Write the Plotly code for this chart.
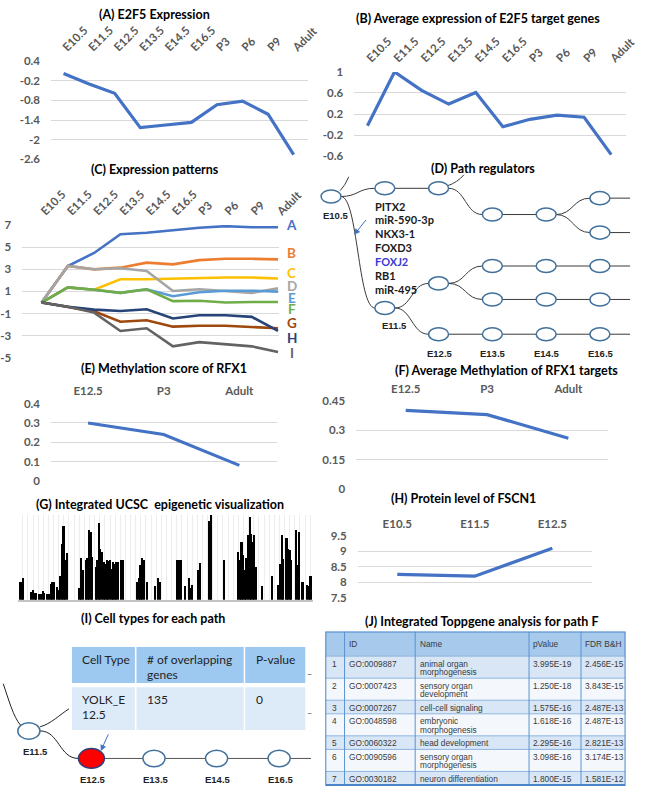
import plotly.graph_objects as go

W, H = 665, 792

# ---- data ---------------------------------------------------------------
stages = ["E10.5", "E11.5", "E12.5", "E13.5", "E14.5", "E16.5", "P3", "P6", "P9", "Adult"]
e2f5_expression = [0.02, -0.30, -0.58, -1.63, -1.55, -1.47, -0.93, -0.82, -1.22, -2.45]
e2f5_target_expression = [-0.02, 1.00, 0.65, 0.39, 0.61, -0.04, 0.10, 0.18, 0.14, -0.57]

path_labels = ["A", "B", "C", "D", "E", "F", "G", "H", "I"]
path_colors = ["#4472C4", "#ED7D31", "#FFC000", "#A5A5A5", "#5B9BD5",
               "#70AD47", "#9E480E", "#264478", "#636363"]
path_a = [0, 3.30, 4.48, 6.17, 6.30, 6.55, 6.76, 6.90, 6.80, 6.80]
path_b = [0, 3.30, 3.00, 3.15, 3.60, 3.45, 3.83, 3.95, 3.95, 3.90]
path_c = [0, 1.37, 1.16, 2.10, 2.10, 2.17, 2.20, 2.26, 2.26, 2.17]
path_d = [0, 3.30, 3.00, 3.10, 2.85, 1.04, 1.20, 1.04, 0.87, 1.28]
path_e = [0, 1.37, 1.16, 0.87, 1.20, 0.57, 0.93, 1.07, 1.07, 0.98]
path_f = [0, 1.37, 1.16, 0.87, 1.20, 0.13, 0.16, 0.00, 0.04, 0.04]
path_g = [0, -0.38, -0.80, -1.74, -1.60, -2.18, -2.10, -2.10, -2.24, -2.33]
path_h = [0, -0.38, -0.64, -0.76, -0.61, -1.44, -1.15, -1.15, -1.30, -2.57]
path_i = [0, -0.38, -0.91, -2.57, -2.33, -3.96, -3.58, -3.76, -3.96, -4.47]

meth_stages = ["E12.5", "P3", "Adult"]
rfx1_methylation = [0.30, 0.24, 0.08]
rfx1_target_methylation = [0.403, 0.381, 0.26]

fscn1_stages = ["E10.5", "E11.5", "E12.5"]
fscn1_protein = [8.26, 8.20, 9.10]

ucsc_signal = [
    0, 22, 21, 26, 0, 0, 0, 0, 10, 12, 8, 9, 0, 7, 7, 11, 8, 0, 7, 7, 19, 21, 22, 0,
    15, 12, 28, 66, 87, 47, 55, 0, 0, 0, 0, 0, 0, 0, 14, 49, 35, 0, 47, 49, 82, 80, 51, 0,
    39, 47, 91, 60, 57, 45, 43, 47, 46, 47, 37, 45, 43, 45, 45, 0, 47, 47,
    0, 0, 0, 0, 0, 0, 0, 0, 22, 26, 41, 49, 47, 0, 22, 0, 0, 0, 0, 17, 0, 26,
    22, 0, 0, 0, 0, 0, 0, 0, 0, 0, 0, 47, 47, 47, 0, 0, 17, 0, 26, 14, 18, 0, 0, 0,
    35, 44, 0, 0, 0, 0, 0, 93, 100, 0, 0, 0, 0, 0, 0, 0, 47, 0, 0, 0, 0, 0, 0, 0, 0,
    57, 47, 68, 53, 35, 49, 76, 98, 78, 68, 76, 39, 0, 0, 0, 17, 0, 0, 0, 0, 0,
    28, 0, 0, 0, 18, 43, 77, 48, 0, 73, 60, 59, 47, 0, 0, 82, 41, 80, 0, 22, 0, 0,
    18, 17, 28, 0,
]

# path regulators diagram (column = time point, lane = vertical slot)
d_stage_names = ["E10.5", "E11.5", "E12.5", "E13.5", "E14.5", "E16.5"]
d_node_col = [0, 1, 2, 3, 4, 5, 5, 3, 4, 5, 2, 3, 4, 5, 1, 2, 3, 4, 5]
d_node_lane = [1.28, 1.03, 1.03, 1.83, 1.83, 1.33, 2.38, 3.40, 3.40, 3.40,
               3.93, 4.42, 4.42, 4.42, 4.68, 5.48, 5.48, 5.48, 5.48]
d_edges = [(0, 1), (1, 2), (2, 3), (3, 4), (4, 5), (4, 6), (0, 14), (14, 10),
           (10, 7), (7, 8), (8, 9), (10, 11), (11, 12), (12, 13), (14, 15),
           (15, 16), (16, 17), (17, 18)]
d_open_right = [5, 6, 9, 13, 18]
regulators = ["PITX2", "miR-590-3p", "NKX3-1", "FOXD3", "FOXJ2", "RB1", "miR-495"]

# cell-type diagram
i_stage_names = ["E11.5", "E12.5", "E13.5", "E14.5", "E16.5"]
i_node_lane = [1, 0, 0, 0, 0]
i_selected = 1

cell_header = ["Cell Type", "# of overlapping<br>genes", "P-value"]
cell_row = ["YOLK_E<br>12.5", "135", "0"]

topp_header = ["", "ID", "Name", "pValue", "FDR B&H"]
topp_rank = ["1", "2", "3", "4", "5", "6", "7"]
topp_id = ["GO:0009887", "GO:0007423", "GO:0007267", "GO:0048598",
           "GO:0060322", "GO:0090596", "GO:0030182"]
topp_name = ["animal organ<br>morphogenesis", "sensory organ<br>development",
             "cell-cell signaling", "embryonic<br>morphogenesis", "head development",
             "sensory organ<br>morphogenesis", "neuron differentiation"]
topp_pvalue = ["3.995E-19", "1.250E-18", "1.575E-16", "1.618E-16",
               "2.295E-16", "3.098E-16", "1.800E-15"]
topp_fdr = ["2.456E-15", "3.843E-15", "2.487E-13", "2.487E-13",
            "2.821E-13", "3.174E-13", "1.581E-12"]

# ---- helpers ------------------------------------------------------------
BLUE = "#4472C4"
GRID = "#D9D9D9"
TICK_FONT = dict(family="Lato", size=11.5, color="#595959", weight="bold")
TITLE_FONT = dict(family="Lato", size=12.5, color="black", weight="bold")


def xdom(a, b):
    return [a / W, b / W]


def ydom(top, bottom):
    return [1 - bottom / H, 1 - top / H]


fig = go.Figure()
annotations = []
shapes = []


def ax_name(n):
    return "" if n == 1 else str(n)


def line_chart(n, cats, xd, yd, xrange, yrange, tickvals, tickangle, standoff):
    s = ax_name(n)
    fig.update_layout(**{
        "xaxis" + s: dict(domain=xd, anchor="y" + s, type="category", range=xrange,
                          side="top", tickangle=tickangle, tickfont=TICK_FONT,
                          showgrid=False, zeroline=False, showline=False, ticks="",
                          ticklabelstandoff=standoff, categoryarray=cats,
                          categoryorder="array"),
        "yaxis" + s: dict(domain=yd, anchor="x" + s, range=yrange, tickvals=tickvals,
                          ticktext=[f"{v:g}" for v in tickvals], showgrid=True,
                          gridcolor=GRID, gridwidth=1, zeroline=False, showline=False,
                          tickfont=TICK_FONT, ticklabelstandoff=10),
    })


def add_line(n, x, y, color=BLUE, width=3.2):
    s = ax_name(n)
    fig.add_trace(go.Scatter(x=x, y=y, mode="lines", line=dict(color=color, width=width),
                             xaxis="x" + s, yaxis="y" + s, showlegend=False,
                             hoverinfo="skip"))


def hidden_axes(n, xd, yd, xrange, yrange):
    s = str(n)
    fig.update_layout(**{
        "xaxis" + s: dict(domain=xd, anchor="y" + s, range=xrange, visible=False),
        "yaxis" + s: dict(domain=yd, anchor="x" + s, range=yrange, visible=False),
    })


def title(text, x, y):
    annotations.append(dict(text=text, x=x / W, y=1 - y / H, xref="paper", yref="paper",
                            showarrow=False, font=TITLE_FONT, xanchor="center",
                            yanchor="middle"))


def s_curve(xa, ya, xb, yb):
    xm = (xa + xb) / 2
    return f"M {xa},{ya} C {xm},{ya} {xm},{yb} {xb},{yb}"


def ellipse(xr, yr, x, y, hw, hh, fill="white", line="#41719C"):
    shapes.append(dict(type="circle", xref=xr, yref=yr, x0=x - hw, x1=x + hw,
                       y0=y - hh, y1=y + hh, fillcolor=fill,
                       line=dict(color=line, width=1.5), layer="above"))


def edge_path(xr, yr, path, color="#3A3A3A"):
    shapes.append(dict(type="path", xref=xr, yref=yr, path=path,
                       line=dict(color=color, width=1), layer="above"))


# ---- (A) ---------------------------------------------------------------
line_chart(1, stages, xdom(53, 320), ydom(55, 155), [-0.49, 9.56], [-2.6, 0.4],
           [0.4, -0.2, -0.8, -1.4, -2, -2.6], -45, 4)
add_line(1, stages, e2f5_expression)
title("(A) E2F5 Expression", 161, 8)

# ---- (B) ---------------------------------------------------------------
line_chart(2, stages, xdom(368, 650), ydom(66, 151.7), [-0.49, 9.53], [-0.6, 1.0],
           [1, 0.6, 0.2, -0.2, -0.6], -45, 4)
add_line(2, stages, e2f5_target_expression)
title("(B) Average expression of E2F5 target genes", 497, 12)

# ---- (C) ---------------------------------------------------------------
line_chart(3, stages, xdom(23, 290), ydom(221.7, 356.7), [-0.74, 9.04], [-5, 7],
           [7, 5, 3, 1, -1, -3, -5], -45, 4)
for series, color in zip([path_a, path_b, path_c, path_d, path_e, path_f, path_g,
                          path_h, path_i], path_colors):
    add_line(3, stages, series, color=color, width=2.6)
label_y = [7.0, 4.48, 2.7, 1.52, 0.42, -0.56, -1.89, -3.22, -4.56]
for lab, color, ly in zip(path_labels, path_colors, label_y):
    annotations.append(dict(text=lab, x=303 / W, y=ly, xref="paper", yref="y3",
                            showarrow=False, xanchor="center", yanchor="middle",
                            font=dict(family="Lato", size=13.5, color=color, weight="bold")))
title("(C) Expression patterns", 161, 165)

# ---- (D) path regulators ------------------------------------------------
hidden_axes(4, xdom(330, 665), ydom(150, 360), [-0.25, 5.745], [6.3, 0])
DHW, DHH = 0.185, 0.2
for a, b in d_edges:
    xa, ya = d_node_col[a] + DHW, d_node_lane[a]
    xb, yb = d_node_col[b] - DHW, d_node_lane[b]
    if ya == yb:
        edge_path("x4", "y4", f"M {xa},{ya} L {xb},{yb}")
    else:
        edge_path("x4", "y4", s_curve(xa, ya, xb, yb))
for k in d_open_right:
    x0, y0 = d_node_col[k] + DHW, d_node_lane[k]
    edge_path("x4", "y4", f"M {x0},{y0} L 5.56,{y0}")
# edges leaving the top of the panel
edge_path("x4", "y4", "M 0.17,1.1 Q 0.26,0.95 0.33,0.68")
edge_path("x4", "y4", "M 2.17,0.95 Q 2.35,0.85 2.47,0.62")
for c, ln in zip(d_node_col, d_node_lane):
    ellipse("x4", "y4", c, ln, DHW, DHH)
for i, name in enumerate(regulators):
    annotations.append(dict(text=name, x=0.78, y=1.57 + 0.423 * i, xref="x4", yref="y4",
                            showarrow=False, xanchor="left", yanchor="middle",
                            font=dict(family="Lato", size=11, weight="bold",
                                      color="#3A3AD0" if name == "FOXJ2" else "#1A1A1A")))
annotations.append(dict(x=0.43, y=2.45, ax=0.67, ay=1.95, xref="x4", yref="y4",
                        axref="x4", ayref="y4", showarrow=True, arrowhead=2,
                        arrowsize=1.2, arrowwidth=1, arrowcolor="#4472C4", text=""))
STAGE_FONT = dict(family="Liberation Sans", size=9.5, color="#222222", weight="bold")
annotations.append(dict(text=d_stage_names[0], x=0.1, y=1.86, xref="x4", yref="y4",
                        showarrow=False, font=STAGE_FONT))
annotations.append(dict(text=d_stage_names[1], x=1.18, y=5.22, xref="x4", yref="y4",
                        showarrow=False, font=STAGE_FONT))
for c in range(2, 6):
    annotations.append(dict(text=d_stage_names[c], x=c + 0.02, y=6.06, xref="x4",
                            yref="y4", showarrow=False, font=STAGE_FONT))
title("(D) Path regulators", 502, 164)

# ---- (E) / (F) ---------------------------------------------------------
line_chart(5, meth_stages, xdom(53, 288), ydom(403.3, 481.7), [-0.49, 2.5], [0, 0.4],
           [0, 0.1, 0.2, 0.3, 0.4], 0, 5)
add_line(5, meth_stages, rfx1_methylation)
title("(E) Methylation score of RFX1", 170, 368)

line_chart(6, meth_stages, xdom(370, 632), ydom(400.7, 490), [-0.61, 2.49], [0, 0.45],
           [0, 0.15, 0.3, 0.45], 0, 5)
add_line(6, meth_stages, rfx1_target_methylation)
title("(F) Average Methylation of RFX1 targets", 526, 370)

# ---- (G) ---------------------------------------------------------------
fig.add_trace(go.Bar(x=list(range(len(ucsc_signal))), y=ucsc_signal, width=1.0,
                     marker=dict(color="black", line=dict(width=0)),
                     xaxis="x7", yaxis="y7", showlegend=False, hoverinfo="skip"))
fig.update_layout(
    xaxis7=dict(domain=xdom(18.3, 325), anchor="y7", range=[-0.5, len(ucsc_signal) - 0.5],
                showgrid=True, gridcolor="#EDEDED", gridwidth=1, dtick=3.2, tick0=-0.5,
                showticklabels=False, ticks="", zeroline=False, showline=True,
                linecolor="#C4C4C4", linewidth=2),
    yaxis7=dict(domain=ydom(516, 602.7), anchor="x7", range=[0, 100], visible=False),
    bargap=0,
)
title("(G) Integrated UCSC  epigenetic visualization", 166, 506)

# ---- (H) ---------------------------------------------------------------
line_chart(8, fscn1_stages, xdom(371.7, 615), ydom(537.7, 600.7), [-0.51, 2.51],
           [7.5, 9.5], [7.5, 8, 8.5, 9, 9.5], 0, 5)
add_line(8, fscn1_stages, fscn1_protein)
title("(H) Protein level of FSCN1", 482, 500)

# ---- (I) cell types ----------------------------------------------------
hidden_axes(9, xdom(0, 330), ydom(640, 792), [-0.4615, 4.615], [-1, 4.4286])
IHW, IHH = 0.177, 0.30
RHW, RHH = 0.208, 0.357
edge_path("x9", "y9", "M -0.41,2.71 C -0.33,2.2 -0.25,1.5 -0.13,1.2", "#222222")
edge_path("x9", "y9", "M 0.18,1.15 C 0.35,1.25 0.5,1.6 0.64,1.8", "#222222")
for k in range(len(i_node_lane) - 1):
    xa = k + (RHW if k == i_selected else IHW)
    xb = k + 1 - (RHW if k + 1 == i_selected else IHW)
    ya, yb = i_node_lane[k], i_node_lane[k + 1]
    if ya == yb:
        edge_path("x9", "y9", f"M {xa},{ya} L {xb},{yb}", "#555555")
    else:
        edge_path("x9", "y9", s_curve(xa, ya, xb, yb), "#222222")
last = len(i_node_lane) - 1
edge_path("x9", "y9", f"M {last + IHW},0 L 4.51,0", "#555555")
for k, ln in enumerate(i_node_lane):
    if k == i_selected:
        ellipse("x9", "y9", k, ln, RHW, RHH, fill="#FF0000", line="#2F3E78")
    else:
        ellipse("x9", "y9", k, ln, IHW, IHH)
annotations.append(dict(x=1.15, y=0.27, ax=1.28, ay=0.93, xref="x9", yref="y9",
                        axref="x9", ayref="y9", showarrow=True, arrowhead=2,
                        arrowsize=1.2, arrowwidth=1, arrowcolor="#4472C4", text=""))
annotations.append(dict(text=i_stage_names[0], x=0.11, y=0.26, xref="x9", yref="y9",
                        showarrow=False, font=STAGE_FONT))
for k in range(1, len(i_stage_names)):
    annotations.append(dict(text=i_stage_names[k], x=k + 0.03, y=-0.75, xref="x9",
                            yref="y9", showarrow=False, font=STAGE_FONT))
for yy in (685, 725):
    annotations.append(dict(text="–", x=321.7 / W, y=1 - yy / H, xref="paper",
                            yref="paper", showarrow=False,
                            font=dict(family="Lato", size=9, color="#555555")))
title("(I) Cell types for each path", 159, 622)

# cell-type table
hidden_axes(11, xdom(74, 318), ydom(650.7, 735), [0, 244], [84.3, 0])
cell_w = [67, 113, 64]
edges = [0]
for w in cell_w:
    edges.append(edges[-1] + w)
CELL_FONT = dict(family="Lato", size=12, color="#1F1F1F")
for j in range(len(cell_w)):
    shapes.append(dict(type="rect", xref="x11", yref="y11", x0=edges[j] + 0.8,
                       x1=edges[j + 1] - 0.8, y0=0, y1=36.6, fillcolor="#9DC8F0",
                       line=dict(width=0), layer="below"))
    shapes.append(dict(type="rect", xref="x11", yref="y11", x0=edges[j] + 0.8,
                       x1=edges[j + 1] - 0.8, y0=41, y1=84.3, fillcolor="#DDEBF8",
                       line=dict(width=0), layer="below"))
    for top, text in ((0, cell_header[j]), (41, cell_row[j])):
        for li, part in enumerate(text.split("<br>")):
            annotations.append(dict(text=part, x=edges[j] + 9.5, y=top + 12.8 + 15 * li,
                                    xref="x11", yref="y11", showarrow=False,
                                    xanchor="left", yanchor="middle", font=CELL_FONT))

# ---- (J) toppgene table ------------------------------------------------
hidden_axes(10, xdom(338, 650), ydom(635, 792), [0, 312], [157, 0])
topp_w = [20, 73.4, 118.3, 54, 46.3]
tedges = [0]
for w in topp_w:
    tedges.append(tedges[-1] + w)
TOPP_FONT = dict(family="Liberation Sans", size=8.3, color="#3A3A3A")
HEADER_H = 25
row_tops = [HEADER_H]
for name in topp_name:
    row_tops.append(row_tops[-1] + 5.2 + 8.6 * len(name.split("<br>")))
shapes.append(dict(type="rect", xref="x10", yref="y10", x0=0, x1=tedges[-1], y0=0,
                   y1=HEADER_H, fillcolor="#A6C9EC", line=dict(width=0), layer="below"))
rows = list(zip(topp_rank, topp_id, topp_name, topp_pvalue, topp_fdr))
for r, row in enumerate(rows):
    y0, y1 = row_tops[r], row_tops[r + 1]
    shapes.append(dict(type="rect", xref="x10", yref="y10", x0=0, x1=tedges[-1], y0=y0,
                       y1=y1, fillcolor="#D8E6F5" if r % 2 == 0 else "#F4F8FC",
                       line=dict(width=0), layer="below"))
    shapes.append(dict(type="line", xref="x10", yref="y10", x0=0, x1=tedges[-1], y0=y0,
                       y1=y0, line=dict(color="#8DB5E0", width=1)))
    for j, text in enumerate(row):
        pad = 5 if j == 0 else 2.5
        for li, part in enumerate(text.split("<br>")):
            annotations.append(dict(text=part, x=tedges[j] + pad, y=y0 + 7.5 + 8.6 * li,
                                    xref="x10", yref="y10", showarrow=False,
                                    xanchor="left", yanchor="middle", font=TOPP_FONT))
for j, text in enumerate(topp_header):
    if text:
        annotations.append(dict(text=text, x=tedges[j] + 2.5, y=HEADER_H / 2, xref="x10",
                                yref="y10", showarrow=False, xanchor="left",
                                yanchor="middle", font=TOPP_FONT))
for x in tedges[1:-1]:
    shapes.append(dict(type="line", xref="x10", yref="y10", x0=x, x1=x, y0=0,
                       y1=row_tops[-1], line=dict(color="#5B93D0", width=1)))
shapes.append(dict(type="rect", xref="x10", yref="y10", x0=0, x1=tedges[-1], y0=0,
                   y1=row_tops[-1], line=dict(color="#4A86C8", width=2)))
title("(J) Integrated Toppgene analysis for path F", 500, 625)

fig.update_layout(
    width=W, height=H,
    margin=dict(l=0, r=0, t=0, b=0),
    paper_bgcolor="white",
    plot_bgcolor="rgba(0,0,0,0)",
    showlegend=False,
    annotations=annotations,
    shapes=shapes,
)

page_css = ("document.body.style.margin = '0px';"
            "document.body.style.overflow = 'hidden';"
            "document.documentElement.style.overflow = 'hidden';")
fig.write_html("out.html", config={"displayModeBar": False}, post_script=page_css)
